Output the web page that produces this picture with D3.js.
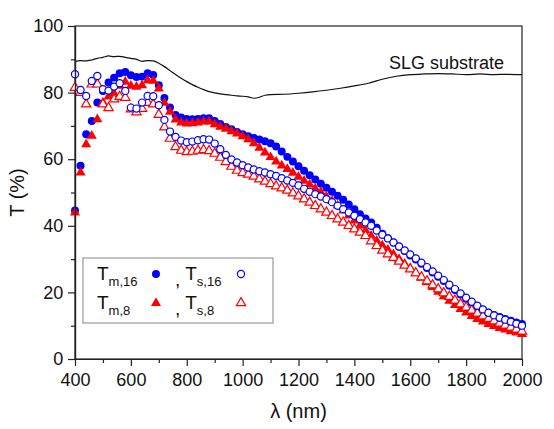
<!DOCTYPE html>
<html>
<head>
<meta charset="utf-8">
<script src="https://cdn.jsdelivr.net/npm/d3@7"></script>
<style>
  html, body { margin: 0; padding: 0; background: #fff; }
  svg { display: block; font-family: 'Liberation Sans', Arial, sans-serif; }
</style>
</head>
<body>
<div id="chart"></div>
<script>
// wavelength grid of the film spectra (nm)
const wavelengths = [
  400, 420, 440, 460, 480, 500, 520, 540, 560, 580,
  600, 620, 640, 660, 680, 700, 720, 740, 760, 780,
  800, 820, 840, 860, 880, 900, 920, 940, 960, 980,
  1000, 1020, 1040, 1060, 1080, 1100, 1120, 1140, 1160, 1180,
  1200, 1220, 1240, 1260, 1280, 1300, 1320, 1340, 1360, 1380,
  1400, 1420, 1440, 1460, 1480, 1500, 1520, 1540, 1560, 1580,
  1600, 1620, 1640, 1660, 1680, 1700, 1720, 1740, 1760, 1780,
  1800, 1820, 1840, 1860, 1880, 1900, 1920, 1940, 1960, 1980,
  2000
]

const tm16 = [
  44.6, 58.0, 67.5, 71.5, 77.0, 80.5, 83.0, 84.5, 85.8, 86.2,
  85.2, 84.7, 84.8, 85.8, 85.3, 82.2, 78.4, 75.5, 73.3, 72.5,
  72.1, 72.0, 72.1, 72.3, 72.3, 71.5, 70.6, 69.7, 69.0, 68.2,
  67.5, 66.9, 66.4, 65.9, 65.4, 64.8, 63.8, 62.3, 60.7, 59.3,
  57.9, 56.5, 55.2, 53.9, 52.6, 51.4, 50.2, 49.0, 47.8, 46.4,
  45.0, 43.5, 42.2, 41.0, 39.4, 37.6, 36.3, 35.0, 33.7, 32.4,
  31.1, 29.9, 28.6, 27.3, 26.0, 24.7, 23.4, 22.0, 20.7, 19.4,
  18.1, 16.9, 15.8, 14.8, 13.9, 13.2, 12.6, 12.0, 11.5, 11.0,
  10.5
]

const tm8 = [
  44.0, 56.0, 64.5, 67.0, 72.0, 77.0, 78.8, 79.7, 82.0, 83.2,
  82.0, 81.7, 82.2, 83.7, 83.5, 81.2, 76.9, 74.2, 71.9, 71.0,
  70.7, 70.8, 71.0, 71.3, 71.3, 70.5, 69.7, 69.1, 68.4, 67.7,
  66.9, 66.0, 64.8, 63.4, 62.0, 60.6, 59.3, 58.1, 57.0, 55.9,
  54.7, 53.5, 52.4, 51.2, 50.1, 48.8, 47.5, 46.1, 44.6, 43.1,
  41.6, 40.1, 38.6, 37.0, 35.5, 34.1, 32.8, 31.4, 30.0, 28.6,
  27.2, 25.8, 24.4, 23.0, 21.6, 20.2, 18.8, 17.5, 16.2, 15.0,
  13.9, 12.9, 12.0, 11.2, 10.5, 9.9, 9.3, 8.8, 8.3, 7.9,
  7.5
]

const ts16 = [
  85.5, 80.8, 79.0, 83.5, 85.0, 81.0, 80.6, 81.8, 82.8, 80.5,
  75.5, 75.2, 77.0, 79.0, 78.9, 76.2, 71.8, 68.3, 66.7, 65.6,
  65.1, 65.3, 65.7, 66.0, 65.9, 64.7, 63.0, 61.3, 59.9, 59.0,
  58.2, 57.5, 56.9, 56.4, 56.0, 55.5, 55.0, 54.3, 53.6, 52.9,
  52.1, 51.1, 50.2, 49.5, 48.8, 48.0, 47.1, 46.0, 45.0, 44.0,
  43.0, 42.0, 41.0, 40.0, 38.6, 37.3, 36.2, 35.0, 33.8, 32.6,
  31.4, 30.2, 28.9, 27.6, 26.3, 25.0, 23.7, 22.3, 21.0, 19.7,
  18.4, 17.2, 16.0, 14.9, 13.9, 13.1, 12.4, 11.8, 11.2, 10.6,
  10.0
]

const ts8 = [
  81.5, 80.0, 76.5, 82.5, 82.5, 76.5, 75.4, 78.0, 78.8, 78.5,
  75.0, 74.1, 75.2, 77.0, 76.5, 73.4, 69.6, 66.2, 63.7, 62.6,
  62.2, 62.3, 62.6, 62.8, 62.5, 61.7, 60.5, 59.2, 57.8, 56.6,
  55.9, 55.4, 54.8, 54.0, 53.3, 52.6, 51.9, 51.3, 50.6, 49.8,
  48.9, 48.0, 47.0, 46.0, 45.0, 44.0, 43.0, 42.0, 41.0, 40.0,
  39.0, 38.0, 37.0, 35.4, 34.0, 32.6, 31.5, 30.4, 29.3, 28.1,
  27.0, 25.8, 24.6, 23.4, 22.2, 21.0, 19.8, 18.7, 17.6, 16.5,
  15.5, 14.6, 13.7, 12.9, 12.1, 11.4, 10.7, 10.1, 9.5, 8.9,
  8.3
]

// bare soda-lime glass substrate
const slgWavelengths = [
  400, 420, 440, 460, 480, 500, 520, 540, 560, 580,
  600, 620, 640, 660, 680, 700, 720, 740, 760, 780,
  800, 820, 840, 860, 880, 900, 920, 940, 960, 980,
  1000, 1020, 1040, 1060, 1080, 1100, 1150, 1200, 1250, 1300,
  1350, 1400, 1450, 1500, 1550, 1600, 1650, 1700, 1750, 1800,
  1850, 1900, 1950, 2000
]
const slgT = [
  89.4, 89.6, 89.5, 89.8, 90.3, 90.6, 91.0, 90.8, 90.9, 90.6,
  90.3, 90.0, 89.4, 89.6, 89.5, 88.8, 87.8, 86.6, 85.4, 84.3,
  83.3, 82.4, 81.6, 80.9, 80.3, 79.9, 79.6, 79.4, 79.2, 79.0,
  78.9, 78.7, 78.3, 78.6, 79.2, 79.4, 79.5, 79.8, 80.2, 80.7,
  81.3, 82.0, 82.8, 84.0, 84.9, 85.4, 85.6, 85.7, 85.6, 85.4,
  85.6, 85.4, 85.5, 85.4
]

const xTicks = [400, 600, 800, 1000, 1200, 1400, 1600, 1800, 2000]
const yTicks = [0, 20, 40, 60, 80, 100]

const W = 554
const H = 429
const margin = { top: 26, right: 32, bottom: 70, left: 75 }

const svg = d3.select('#chart')
  .append('svg')
  .attr('width', W)
  .attr('height', H)

const x = d3.scaleLinear()
  .domain([400, 2000])
  .range([margin.left, W - margin.right])

const y = d3.scaleLinear()
  .domain([0, 100])
  .range([H - margin.bottom, margin.top])

const blue = '#0000ff'
const red = '#ff0000'

// frame
svg.append('rect')
  .attr('x', x(400))
  .attr('y', y(100))
  .attr('width', x(2000) - x(400))
  .attr('height', y(0) - y(100))
  .attr('fill', 'none')
  .attr('stroke', '#222')
  .attr('stroke-width', 1.2)

// substrate curve
const slgLine = d3.line()
  .x(d => x(d[0]))
  .y(d => y(d[1]))
  .curve(d3.curveMonotoneX)

svg.append('path')
  .datum(slgWavelengths.map((w, i) => [w, slgT[i]]))
  .attr('fill', 'none')
  .attr('stroke', '#111')
  .attr('stroke-width', 1.2)
  .attr('d', slgLine)

svg.append('text')
  .attr('x', x(2000) - 18)
  .attr('y', y(85.4) - 6)
  .attr('text-anchor', 'end')
  .attr('font-size', 18)
  .attr('fill', '#111')
  .text('SLG substrate')

const circle = d3.symbol().type(d3.symbolCircle).size(50)
const openCircle = d3.symbol().type(d3.symbolCircle).size(40)
const triangle = d3.symbol().type(d3.symbolTriangle).size(44)
const openTriangle = d3.symbol().type(d3.symbolTriangle).size(38)

const series = [
  { values: tm16, shape: circle, fill: blue, stroke: 'none' },
  { values: tm8, shape: triangle, fill: red, stroke: 'none' },
  { values: ts8, shape: openTriangle, fill: '#fff', stroke: red },
  { values: ts16, shape: openCircle, fill: '#fff', stroke: blue }
]

series.forEach(s => {
  svg.append('g')
    .selectAll('path')
    .data(wavelengths.map((w, i) => [w, s.values[i]]))
    .join('path')
    .attr('transform', d => `translate(${x(d[0])},${y(d[1])})`)
    .attr('d', s.shape)
    .attr('fill', s.fill)
    .attr('stroke', s.stroke)
    .attr('stroke-width', 1.2)
})

// axes
const xAxis = svg.append('g')
  .attr('transform', `translate(0,${y(0)})`)
  .call(d3.axisBottom(x).tickValues(xTicks).tickFormat(d3.format('d')).tickSize(7).tickSizeOuter(0))
xAxis.append('g')
  .call(d3.axisBottom(x).tickValues([500, 700, 900, 1100, 1300, 1500, 1700, 1900]).tickFormat('').tickSize(4).tickSizeOuter(0))

const yAxis = svg.append('g')
  .attr('transform', `translate(${x(400)},0)`)
  .call(d3.axisLeft(y).tickValues(yTicks).tickSize(7).tickSizeOuter(0))
yAxis.append('g')
  .call(d3.axisLeft(y).tickValues([10, 30, 50, 70, 90]).tickFormat('').tickSize(4).tickSizeOuter(0))

svg.selectAll('.domain').attr('stroke', '#222').attr('stroke-width', 1.2)
svg.selectAll('.tick line').attr('stroke', '#222').attr('stroke-width', 1.2)
svg.selectAll('.tick text')
  .attr('font-size', 18)
  .attr('font-family', "'Liberation Sans', Arial, sans-serif")
  .attr('fill', '#111')
xAxis.selectAll('.tick text').attr('dy', '0.95em')
yAxis.selectAll('.tick text').attr('dx', '-0.1em')

svg.append('text')
  .attr('x', (x(400) + x(2000)) / 2)
  .attr('y', 418)
  .attr('text-anchor', 'middle')
  .attr('font-size', 20)
  .attr('fill', '#111')
  .text('λ (nm)')

svg.append('text')
  .attr('transform', `translate(24,${(y(0) + y(100)) / 2}) rotate(-90)`)
  .attr('text-anchor', 'middle')
  .attr('font-size', 20)
  .attr('fill', '#111')
  .text('T (%)')

// legend
const legend = svg.append('g').attr('transform', 'translate(83,258)')
legend.append('rect')
  .attr('width', 190)
  .attr('height', 65)
  .attr('fill', '#fff')
  .attr('stroke', '#999')
  .attr('stroke-width', 1.2)

const legendRows = [
  { left: ['T', 'm,16'], right: ['T', 's,16'], shape: circle, open: openCircle, color: blue },
  { left: ['T', 'm,8'], right: ['T', 's,8'], shape: triangle, open: openTriangle, color: red }
]

legendRows.forEach((r, i) => {
  const base = 22 + i * 29
  const t1 = legend.append('text').attr('x', 14).attr('y', base).attr('font-size', 19).attr('fill', '#111')
  t1.append('tspan').text(r.left[0])
  t1.append('tspan').attr('font-size', 13).attr('dy', 6).text(r.left[1])

  legend.append('path')
    .attr('transform', `translate(73,${base - 6})`)
    .attr('d', r.shape())
    .attr('fill', r.color)

  const t2 = legend.append('text').attr('x', 92).attr('y', base + 6).attr('font-size', 19).attr('fill', '#111')
  t2.append('tspan').text(', ')
  t2.append('tspan').attr('dy', -6).text(r.right[0])
  t2.append('tspan').attr('font-size', 13).attr('dy', 6).text(r.right[1])

  legend.append('path')
    .attr('transform', `translate(158,${base - 6})`)
    .attr('d', r.open())
    .attr('fill', '#fff')
    .attr('stroke', r.color)
    .attr('stroke-width', 1.2)
})
</script>
</body>
</html>
